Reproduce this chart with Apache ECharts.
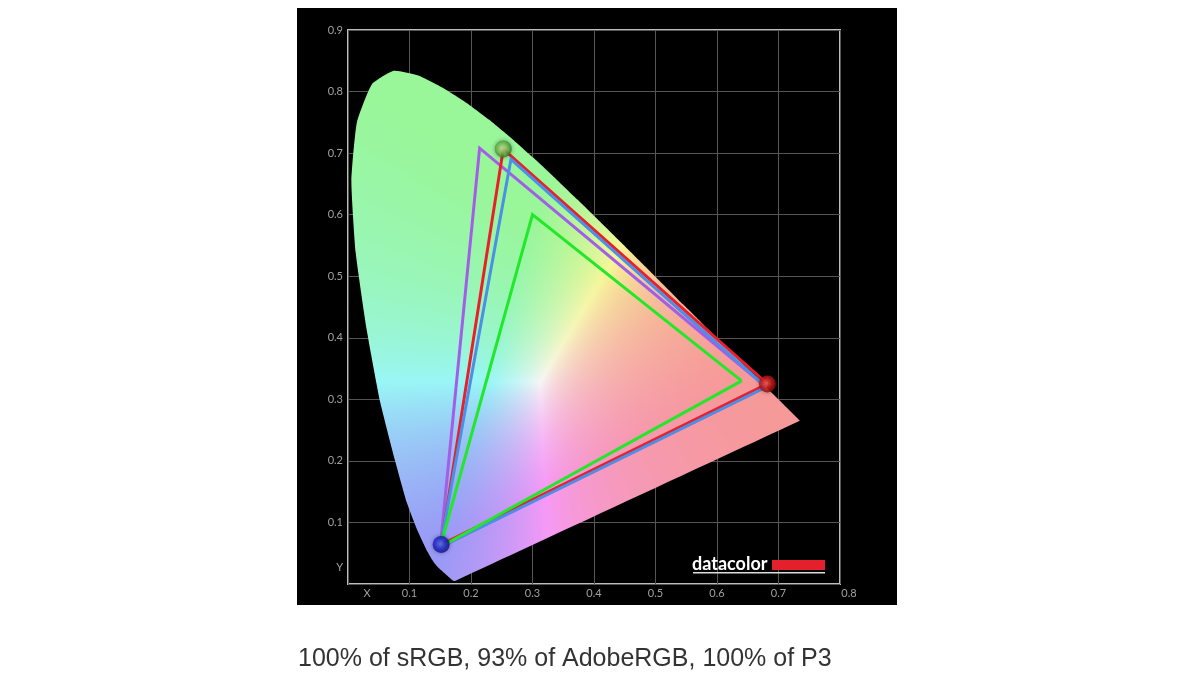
<!DOCTYPE html>
<html>
<head>
<meta charset="utf-8">
<script src="https://cdn.jsdelivr.net/npm/echarts@6.0.0/dist/echarts.min.js"></script>
<style>
  html, body { margin: 0; padding: 0; background: #fff; }
  #chart { width: 1200px; height: 675px; }
</style>
</head>
<body>
<div id="chart"></div>
<script>
// ---- Data ----
// Spectral locus outline (x, y), 380..700 nm
const locusX = [0.1741,0.1740,0.1738,0.1736,0.1733,0.1730,0.1726,0.1721,0.1714,0.1703,0.1689,0.1669,0.1644,0.1611,0.1566,0.1510,0.1440,0.1365,0.1265,0.1130,0.0955,0.0765,0.0525,0.0305,0.0125,0.0055,0.0145,0.0389,0.0743,0.1142,0.1547,0.1929,0.2296,0.2658,0.3016,0.3373,0.3731,0.4087,0.4441,0.4788,0.5125,0.5448,0.5752,0.6029,0.6270,0.6482,0.6658,0.6801,0.6915,0.7006,0.7079,0.7140,0.7190,0.7230,0.7260,0.7283,0.7300,0.7311,0.7320,0.7327,0.7334,0.7340,0.7344,0.7346,0.7347];
const locusY = [0.0050,0.0050,0.0049,0.0049,0.0048,0.0048,0.0048,0.0048,0.0051,0.0058,0.0069,0.0086,0.0109,0.0138,0.0177,0.0227,0.0297,0.0399,0.0578,0.0868,0.1327,0.2007,0.2950,0.4127,0.5384,0.6548,0.7502,0.8120,0.8338,0.8262,0.8059,0.7816,0.7543,0.7243,0.6923,0.6589,0.6245,0.5896,0.5547,0.5202,0.4866,0.4544,0.4242,0.3965,0.3725,0.3514,0.3340,0.3197,0.3083,0.2993,0.2920,0.2859,0.2809,0.2770,0.2740,0.2717,0.2700,0.2689,0.2680,0.2673,0.2666,0.2660,0.2656,0.2654,0.2653];

// Gamut triangles: [red, green, blue] primaries (x, y)
const measuredGamut = [[0.682, 0.325], [0.2525, 0.7065], [0.1515, 0.064]];
const p3Gamut       = [[0.680, 0.320], [0.265, 0.690], [0.150, 0.060]];
const adobeGamut    = [[0.680, 0.320], [0.214, 0.708], [0.150, 0.060]];
const srgbGamut     = [[0.640, 0.330], [0.300, 0.600], [0.150, 0.060]];

const xTicks = ['X', '0.1', '0.2', '0.3', '0.4', '0.5', '0.6', '0.7', '0.8'];
const yTicks = ['Y', '0.1', '0.2', '0.3', '0.4', '0.5', '0.6', '0.7', '0.8', '0.9'];
const caption = '100% of sRGB, 93% of AdobeRGB, 100% of P3';
const logoText = 'datacolor';

// ---- Chromaticity fill ----
function chromaColor(x, y) {
  const X = x / y, Y = 1, Z = (1 - x - y) / y;
  let r = 3.2406 * X - 1.5372 * Y - 0.4986 * Z;
  let g = -0.9689 * X + 1.8758 * Y + 0.0415 * Z;
  let b = 0.0557 * X - 0.2040 * Y + 1.0570 * Z;
  r = Math.max(r, 0); g = Math.max(g, 0); b = Math.max(b, 0);
  const m = Math.max(r, g, b) || 1;
  const base = 0.62, bright = 0.965;
  const f = c => Math.round(bright * 255 * (base + (1 - base) * Math.pow(c / m, 1.1)));
  return [f(r), f(g), f(b)];
}

let fillCanvas = null;
function buildFill(api) {
  const W = api.getWidth(), H = api.getHeight();
  const c00 = api.coord([0, 0]), c11 = api.coord([1, 1]);
  const sx = c11[0] - c00[0], sy = c11[1] - c00[1];
  const cv = document.createElement('canvas');
  cv.width = W; cv.height = H;
  const ctx = cv.getContext('2d');
  const img = ctx.createImageData(W, H);
  const pxMin = Math.floor(c00[0]), pxMax = Math.ceil(c00[0] + sx * 0.76);
  const pyMin = Math.floor(c00[1] + sy * 0.86), pyMax = Math.ceil(c00[1]);
  for (let py = Math.max(0, pyMin); py < Math.min(H, pyMax); py++) {
    for (let px = Math.max(0, pxMin); px < Math.min(W, pxMax); px++) {
      const x = (px + 0.5 - c00[0]) / sx;
      const y = (py + 0.5 - c00[1]) / sy;
      if (y <= 0.001) continue;
      const c = chromaColor(x, y);
      const i = (py * W + px) * 4;
      img.data[i] = c[0]; img.data[i + 1] = c[1]; img.data[i + 2] = c[2]; img.data[i + 3] = 255;
    }
  }
  ctx.putImageData(img, 0, 0);
  return cv;
}

function closed(tri) { return tri.concat([tri[0]]); }

const chart = echarts.init(document.getElementById('chart'), null, { renderer: 'canvas' });

const ballStyles = [
  { inner: '#ff6a5a', mid: '#d81818', outer: '#6e0606' },
  { inner: '#d8f0a0', mid: '#6cbc4c', outer: '#2a5e1e' },
  { inner: '#6a6aff', mid: '#2222d8', outer: '#0a0a60' }
];

const labelFont = 'Lato, "Open Sans", sans-serif';

const option = {
  animation: false,
  backgroundColor: '#ffffff',
  title: {
    text: caption,
    left: 298,
    top: 647,
    padding: 0,
    textStyle: { fontFamily: 'Liberation Sans, Arial, sans-serif', fontSize: 25, fontWeight: 'normal', color: '#333333' }
  },
  graphic: [
    { type: 'rect', z: -100, shape: { x: 297, y: 8, width: 600, height: 597 }, style: { fill: '#000000' } },
    { type: 'text', z: 100, x: 692, y: 564, style: { text: logoText, fill: '#ffffff', font: 'bold 18px Lato, "DejaVu Sans", sans-serif', verticalAlign: 'middle', align: 'left' } },
    { type: 'rect', z: 100, shape: { x: 772, y: 560, width: 53, height: 10 }, style: { fill: '#e3202b' } },
    { type: 'rect', z: 100, shape: { x: 693, y: 572, width: 132, height: 1.5 }, style: { fill: '#dddddd' } }
  ],
  grid: {
    left: 348, top: 30, width: 492, height: 554,
    show: true, borderColor: '#bdbdbd', borderWidth: 2, backgroundColor: 'transparent'
  },
  xAxis: {
    type: 'value', min: 0, max: 0.8, interval: 0.1,
    axisLine: { show: false }, axisTick: { show: false },
    splitLine: { show: true, lineStyle: { color: '#555555', width: 1 } },
    axisLabel: {
      color: '#a0a0a0', fontSize: 11, fontFamily: labelFont, margin: 4,
      showMinLabel: true, showMaxLabel: true,
      formatter: function (v) {
        const i = Math.round(v * 10);
        if (i === 0) return '{x|' + xTicks[0] + '}';
        if (i === 8) return '{e|' + xTicks[8] + '}';
        return xTicks[i];
      },
      rich: {
        x: { color: '#a0a0a0', fontSize: 11, fontFamily: labelFont, padding: [0, 0, 0, 38] },
        e: { color: '#a0a0a0', fontSize: 11, fontFamily: labelFont, padding: [0, 0, 0, 18] }
      }
    }
  },
  yAxis: {
    type: 'value', min: 0, max: 0.9, interval: 0.1,
    axisLine: { show: false }, axisTick: { show: false },
    splitLine: { show: true, lineStyle: { color: '#555555', width: 1 } },
    axisLabel: {
      color: '#a0a0a0', fontSize: 11, fontFamily: labelFont, margin: 5,
      showMinLabel: true, showMaxLabel: true,
      formatter: function (v) {
        const i = Math.round(v * 10);
        if (i === 0) return '{y|' + yTicks[0] + '}';
        return yTicks[i];
      },
      rich: {
        y: { color: '#a0a0a0', fontSize: 11, fontFamily: labelFont, padding: [0, 0, 34, 0] }
      }
    }
  },
  series: [
    {
      type: 'custom',
      z: 1,
      silent: true,
      data: [0],
      renderItem: function (params, api) {
        if (!fillCanvas) fillCanvas = buildFill(api);
        const pts = locusX.map((x, i) => api.coord([x, locusY[i]]));
        return {
          type: 'polygon',
          shape: { points: pts, smooth: 0.15 },
          style: { fill: { image: fillCanvas, repeat: 'no-repeat' }, stroke: null }
        };
      }
    },
    { type: 'line', name: 'AdobeRGB', z: 3, data: closed(adobeGamut), symbol: 'none', lineStyle: { color: '#a35ee8', width: 3, join: 'miter' } },
    { type: 'line', name: 'Measured', z: 4, data: closed(measuredGamut), symbol: 'none', lineStyle: { color: '#e8202a', width: 3, join: 'miter' } },
    { type: 'line', name: 'P3', z: 5, data: closed(p3Gamut), symbol: 'none', lineStyle: { color: '#4b8fe6', width: 3, join: 'miter' } },
    { type: 'line', name: 'sRGB', z: 6, data: closed(srgbGamut), symbol: 'none', lineStyle: { color: '#22e82a', width: 3, join: 'miter' } },
    {
      type: 'scatter', z: 10, symbol: 'circle', symbolSize: 17,
      data: measuredGamut.map((p, i) => ({
        value: p,
        itemStyle: {
          color: {
            type: 'radial', x: 0.45, y: 0.45, r: 0.6,
            colorStops: [
              { offset: 0, color: ballStyles[i].inner },
              { offset: 0.55, color: ballStyles[i].mid },
              { offset: 1, color: ballStyles[i].outer }
            ]
          },
          shadowBlur: 4, shadowColor: 'rgba(0,0,0,0.45)'
        }
      }))
    }
  ]
};

chart.setOption(option);
</script>
</body>
</html>
